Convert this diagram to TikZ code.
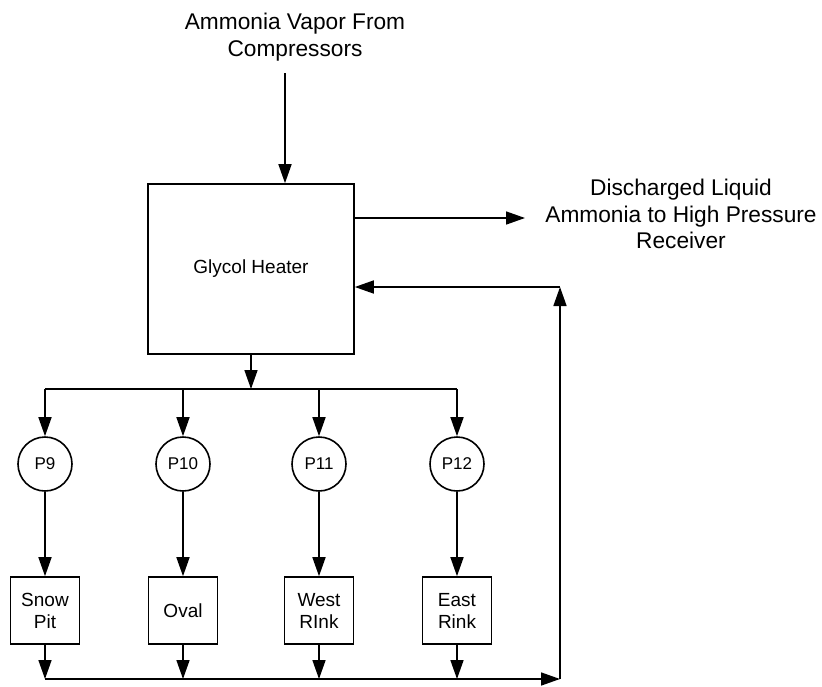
\documentclass[tikz,border=0pt]{standalone}
\usepackage{fontspec}
\setmainfont{Liberation Sans}
\usetikzlibrary{arrows.meta,calc}
\begin{document}
\begin{tikzpicture}[x=1pt,y=-1pt,
  line width=1.6pt,
  flow/.style={-{Triangle[length=19pt,width=13pt]}},
  bigtext/.style={font=\fontsize{22.7}{26.5}\selectfont, align=center, inner sep=0pt},
  heaterbox/.style={draw, rectangle, minimum width=206pt, minimum height=170pt, inner sep=0pt, font=\fontsize{19}{22}\selectfont},
  pumpnode/.style={draw, circle, minimum size=54pt, inner sep=0pt, font=\fontsize{17}{20}\selectfont},
  loadbox/.style={draw, rectangle, minimum width=69pt, minimum height=67pt, inner sep=0pt, align=center, font=\fontsize{19}{22}\selectfont}
]
\useasboundingbox (0,0) rectangle (822,686);

% texts
\node[bigtext] (vaporlbl) at (295,37) {Ammonia Vapor From\\Compressors};
\node[bigtext] (dischlbl) at (681,214) {Discharged Liquid\\Ammonia to High Pressure\\Receiver};

% heater
\node[heaterbox] (heater) at (251,269) {Glycol Heater};

% pumps
\node[pumpnode] (p9)  at (45,464)  {P9};
\node[pumpnode] (p10) at (183,464) {P10};
\node[pumpnode] (p11) at (319,464) {P11};
\node[pumpnode] (p12) at (457,464) {P12};

% loads
\node[loadbox] (snow) at (45,610.5)  {Snow\\Pit};
\node[loadbox] (oval) at (183,610.5) {Oval};
\node[loadbox] (west) at (319,610.5) {West\\RInk};
\node[loadbox] (east) at (457,610.5) {East\\Rink};

% coordinates
\coordinate (intop) at (285,73);
\coordinate (outR) at (525,218);
\coordinate (split) at (251,389);
\coordinate (retC) at (560,287);
\coordinate (botR) at (560,679);

% connectors
\draw[flow] (intop) -- (intop |- heater.north);
\draw[flow] (heater.east |- outR) -- (outR);
\draw[flow] (heater.south) -- (split);
\draw (p9 |- split) -- (p12 |- split);
\foreach \p in {p9,p10,p11,p12} {
  \draw[flow] (\p |- split) -- (\p.north);
}
\draw[flow] (p9.south) -- (snow.north);
\draw[flow] (p10.south) -- (oval.north);
\draw[flow] (p11.south) -- (west.north);
\draw[flow] (p12.south) -- (east.north);
\foreach \b in {snow,oval,west,east} {
  \draw[flow] (\b.south) -- (\b |- botR);
}
\draw[flow] (snow |- botR) -- (botR);
\draw[flow] (botR) -- (retC);
\draw[flow] (retC) -- (retC -| heater.east);
\end{tikzpicture}
\end{document}
